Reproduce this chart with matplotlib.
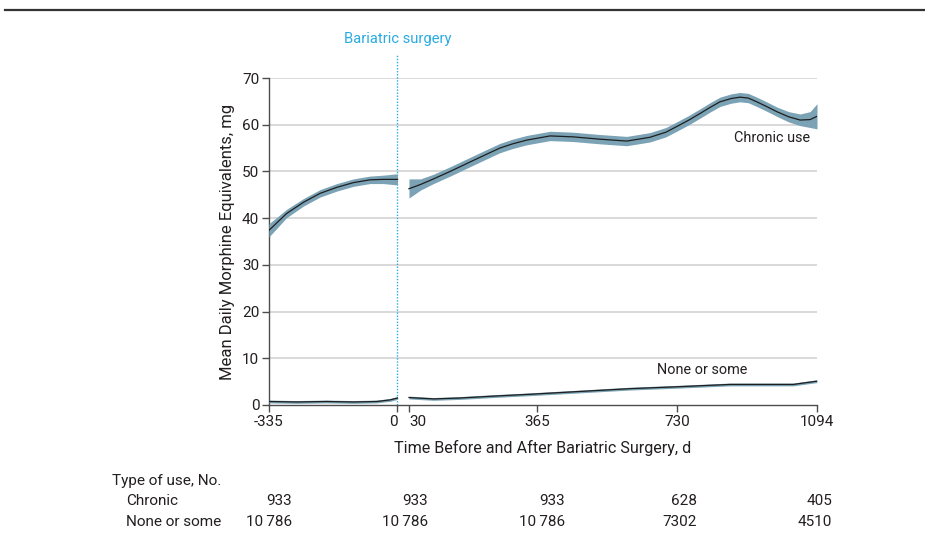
import matplotlib
matplotlib.use("Agg")
import matplotlib.pyplot as plt
from matplotlib.lines import Line2D

plt.rcParams['font.family'] = ['Roboto', 'DejaVu Sans']

# chronic use, before surgery (day, mean MME, CI low, CI high)
pre_days = [-335, -289, -245, -202, -158, -115, -72, -37, 0]
chronic_pre = [37.4, 41.0, 43.4, 45.3, 46.6, 47.6, 48.2, 48.3, 48.3]
chronic_pre_lo = [36.0, 40.1, 42.6, 44.5, 45.8, 46.8, 47.4, 47.4, 47.1]
chronic_pre_hi = [38.8, 41.9, 44.2, 46.1, 47.4, 48.4, 49.0, 49.2, 49.5]

# chronic use, after surgery
post_days = [30, 60, 94, 140, 181, 225, 267, 300, 337, 398, 458, 528, 598,
             658, 700, 728, 760, 789, 815, 841, 870, 893, 915, 937, 960,
             989, 1020, 1050, 1076, 1094]
chronic_post = [46.3, 47.2, 48.4, 50.1, 51.7, 53.4, 55.0, 55.9, 56.7, 57.6,
                57.4, 56.9, 56.5, 57.3, 58.4, 59.6, 61.0, 62.4, 63.7, 64.9,
                65.6, 65.9, 65.7, 64.9, 64.0, 62.8, 61.7, 61.0, 61.1, 61.8]
chronic_post_lo = [44.3, 46.0, 47.4, 49.1, 50.7, 52.4, 54.0, 54.9, 55.7, 56.6,
                   56.4, 55.9, 55.5, 56.3, 57.4, 58.6, 60.0, 61.4, 62.7, 63.9,
                   64.6, 64.9, 64.7, 63.9, 63.0, 61.8, 60.6, 59.8, 59.4, 59.1]
chronic_post_hi = [48.4, 48.4, 49.4, 51.1, 52.7, 54.4, 56.0, 56.9, 57.7, 58.6,
                   58.4, 57.9, 57.5, 58.3, 59.4, 60.6, 62.0, 63.4, 64.7, 65.9,
                   66.6, 66.9, 66.7, 65.9, 65.0, 63.8, 62.8, 62.3, 62.8, 64.5]

# none or some use
none_pre_days = [-335, -263, -185, -115, -54, -19, 0]
none_pre = [0.75, 0.65, 0.75, 0.65, 0.75, 1.1, 1.5]
none_post_days = [30, 94, 163, 250, 346, 476, 606, 728, 867, 954, 1032, 1067, 1094]
none_post = [1.6, 1.3, 1.5, 1.9, 2.3, 2.9, 3.5, 3.9, 4.4, 4.4, 4.4, 4.8, 5.1]
none_ci = 0.3

xticks = [-335, 0, 30, 365, 730, 1094]
yticks = [0, 10, 20, 30, 40, 50, 60, 70]

# numbers at risk
risk_rows = ['Chronic', 'None or some']
risk_chronic = ['933', '933', '933', '628', '405']
risk_none = ['10\u2009786', '10\u2009786', '10\u2009786', '7302', '4510']

band_col = '#7ba3b5'
line_col = '#1e1e1e'
cyan = '#29abe2'
txt_col = '#231f20'
fs = 11

fig = plt.figure(figsize=(9.25, 5.46), dpi=100)
ax = fig.add_axes([269 / 925, 1 - 405 / 546, 548 / 925, 327 / 546])

for d, m, lo, hi in [(pre_days, chronic_pre, chronic_pre_lo, chronic_pre_hi),
                     (post_days, chronic_post, chronic_post_lo, chronic_post_hi)]:
    ax.fill_between(d, lo, hi, color=band_col, lw=0, zorder=3)
    ax.plot(d, m, color=line_col, lw=0.9, zorder=4)

for d, m in [(none_pre_days, none_pre), (none_post_days, none_post)]:
    ax.fill_between(d, [v - none_ci for v in m], [v + none_ci for v in m],
                    color=band_col, lw=0, zorder=3)
    ax.plot(d, m, color=line_col, lw=0.9, zorder=4)

ax.set_xlim(-335, 1094)
ax.set_ylim(0, 70)
ax.set_xticks(xticks)
ax.set_xticklabels([str(t) for t in xticks])
ax.set_yticks(yticks)
labs = ax.get_xticklabels()
labs[1].set_horizontalalignment('right')
labs[2].set_horizontalalignment('left')

for y in yticks[1:]:
    ax.axhline(y, color='#d9d9d9', lw=1.4, zorder=1)

for s in ['top', 'right']:
    ax.spines[s].set_visible(False)
for s in ['left', 'bottom']:
    ax.spines[s].set_color('#4d4d4d')
    ax.spines[s].set_linewidth(1.0)
ax.tick_params(direction='out', length=5, width=1.0, color='#4d4d4d',
               labelsize=fs, labelcolor=txt_col, pad=2)

ax.axvline(0, ymin=0, ymax=1.07, color=cyan, lw=1.0, ls=(0, (1, 1.2)),
           clip_on=False, zorder=2)
ax.text(0, 78.3, 'Bariatric surgery', color=cyan, fontsize=fs - 0.4,
        ha='center', va='center')

ax.text(1076, 57.1, 'Chronic use', color=txt_col, fontsize=fs - 0.6,
        ha='right', va='center')
ax.text(794, 7.4, 'None or some', color=txt_col, fontsize=fs - 0.6,
        ha='center', va='center')

ax.set_ylabel('Mean Daily Morphine Equivalents, mg', fontsize=12,
              color=txt_col, labelpad=5)
ax.set_xlabel('Time Before and After Bariatric Surgery, d', fontsize=11.6,
              color=txt_col, labelpad=8)

# table of numbers at risk
fig.text(112 / 925, 1 - 481 / 546, 'Type of use, No.', fontsize=fs,
         color=txt_col, ha='left', va='center')
col_right = [292, 428, 565, 697, 832]
for r, (name, vals) in enumerate(zip(risk_rows, [risk_chronic, risk_none])):
    yy = 1 - (501 + 21 * r) / 546
    fig.text(126 / 925, yy, name, fontsize=fs, color=txt_col,
             ha='left', va='center')
    for xr, v in zip(col_right, vals):
        fig.text(xr / 925, yy, v, fontsize=fs, color=txt_col,
                 ha='right', va='center')

fig.add_artist(Line2D([5 / 925, 1], [1 - 10 / 546, 1 - 10 / 546],
                      color='#333333', lw=1.6))

fig.savefig('out.png', dpi=100)
